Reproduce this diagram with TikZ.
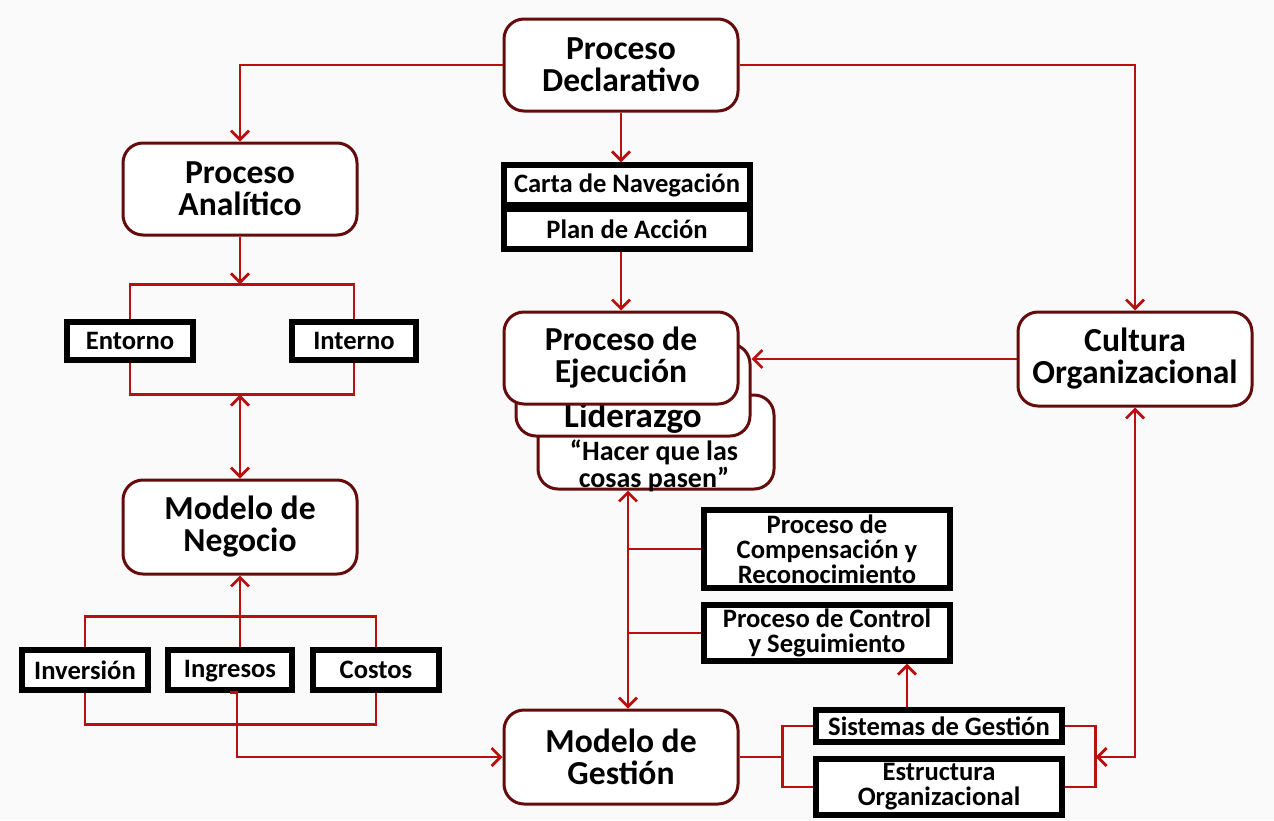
\documentclass[tikz,border=0pt]{standalone}
\usepackage{fontspec}
\setmainfont{Carlito}
\usetikzlibrary{calc}
\usetikzlibrary{arrows.meta}
\definecolor{lnkred}{RGB}{185,15,15}
\definecolor{maroon}{RGB}{100,12,12}
\begin{document}
\begin{tikzpicture} [x=.5pt, y=-.5pt,
  rbox/.style={draw=maroon, line width=1.5pt, rounded corners=10pt, fill=white, text=black,
    minimum width=117pt, minimum height=46pt, align=center, font=\bfseries\fontsize{16.8}{16}\selectfont},
  bbox/.style={draw=black, line width=2.6pt, fill=white, text=black, inner sep=1pt,
    align=center, font=\bfseries\fontsize{13.3}{12.6}\selectfont},
  lnk/.style={lnkred, line width=1.4pt, >={Straight Barb[length=4.5pt,width=9pt]}}]
\fill[black!2] (0,0) rectangle (1274,820);
% cajas redondeadas
\node[rbox] (decl) at (621,65) {Proceso\\Declarativo};
\node[rbox] (analit) at (240,189) {Proceso\\Anal\'itico};
\node[rbox, minimum width=118pt, minimum height=47pt] (hacer) at (656,442) {};
\node[font=\bfseries\fontsize{14}{12.2}\selectfont, align=center] (hacertxt) at (654,466) {“Hacer que las\\cosas pasen”};
\node[rbox] (lider) at (633,390) {};
\node[font=\bfseries\fontsize{17.5}{15}\selectfont] (lidertxt) at (633,418) {Liderazgo};
\node[rbox] (ejec) at (621,358) {Proceso de\\Ejecuci\'on};
\node[rbox, minimum height=47pt] (cultura) at (1135,359) {Cultura\\Organizacional};
\node[rbox, minimum height=47pt] (negocio) at (240,527) {Modelo de\\Negocio};
\node[rbox, minimum height=47pt] (gestion) at (621,757) {Modelo de\\Gesti\'on};
% cajas negras
\node[bbox, minimum width=123pt, minimum height=20pt] (carta) at (627,185) {Carta de Navegaci\'on};
\node[bbox, minimum width=123pt, minimum height=20pt] (plan) at (627,229) {Plan de Acci\'on};
\node[bbox, minimum width=63pt, minimum height=19pt] (entorno) at (130,341) {Entorno};
\node[bbox, minimum width=62pt, minimum height=19pt] (interno) at (354,341) {Interno};
\node[bbox, minimum width=63pt, minimum height=20pt] (inversion) at (85,670) {Inversi\'on};
\node[bbox, minimum width=62pt, minimum height=20pt, text depth=.2ex] (ingresos) at (230,670) {Ingresos};
\node[bbox, minimum width=63pt, minimum height=20pt] (costos) at (376,670) {Costos};
\node[bbox, minimum width=123pt, minimum height=39pt] (comp) at (827,549) {Proceso de\\Compensaci\'on y\\Reconocimiento};
\node[bbox, minimum width=123pt, minimum height=28pt] (control) at (827,633) {Proceso de Control\\y Seguimiento};
\node[bbox, minimum width=123pt, minimum height=16pt] (sist) at (939,726) {Sistemas de Gesti\'on};
\node[bbox, minimum width=123pt, minimum height=28pt] (estr) at (939,787) {Estructura\\Organizacional};
% conectores
\draw[lnk,->] (decl.west) -| (analit.north);
\draw[lnk,->] (decl.south) -- (decl.south |- carta.north);
\draw[lnk,->] (decl.east) -| (cultura.north);
\draw[lnk,->] (ejec.north |- plan.south) -- (ejec.north);
\draw[lnk] (entorno.north) -- ++(0,-35) coordinate (et) -| (interno.north);
\draw[lnk,->] (analit.south) -- (analit.south |- et);
\draw[lnk] (entorno.south) -- ++(0,32) coordinate (eb) -| (interno.south);
\draw[lnk,<->] (eb -| negocio.north) -- (negocio.north);
\draw[lnk] (inversion.north) -- ++(0,-31) -| (costos.north);
\draw[lnk,->] (negocio.south |- ingresos.north) -- (negocio.south);
\draw[lnk] (inversion.south) -- ++(0,32) -| (costos.south);
\draw[lnk,->] (ingresos.south) -- ++(7,0) |- (gestion.west);
\draw[lnk,->] (cultura.west) -- (cultura.west -| lider.east);
\coordinate (vb) at ([xshift=3.5pt]gestion.north);
\draw[lnk,<->] (vb) -- (vb |- hacer.south);
\draw[lnk] (comp.west) -- (comp.west -| vb);
\draw[lnk] (control.west) -- (control.west -| vb);
\draw[lnk,->] ([xshift=-16pt]sist.north) -- ([xshift=-16pt]sist.north |- control.south);
\draw[lnk] (sist.west) -- ++(-31,0) coordinate (gb) |- (estr.west);
\draw[lnk] (gestion.east) -- (gestion.east -| gb);
\draw[lnk] (sist.east) -- ++(31,0) coordinate (rb) |- (estr.east);
\draw[lnk,<->] (rb |- gestion.east) -| (cultura.south);
\end{tikzpicture}
\end{document}
